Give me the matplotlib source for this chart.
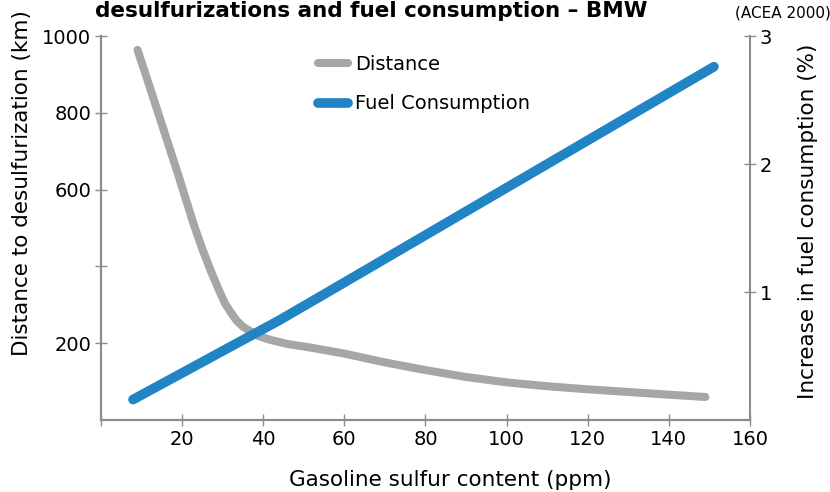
import matplotlib.pyplot as plt

# Distanz bis zur Entschwefelung (linke Achse, km)
dist_x = [9, 11, 13, 15, 17, 19, 21, 23, 25, 27, 29, 30.5, 32, 33.5, 35, 37, 39, 42, 46,
          52, 60, 70, 80, 90, 100, 110, 120, 130, 140, 149]
dist_y = [964, 900, 835, 770, 705, 640, 572, 505, 445, 390, 340, 305, 280, 258, 243, 230, 218, 208, 198,
          188, 173, 150, 130, 112, 98, 88, 80, 73, 66, 60]

# Mehrverbrauch (rechte Achse, %)
fuel_x = [7.9, 44, 56.5, 151.1]
fuel_y = [0.16, 0.78, 1.01, 2.76]

x_ticks = [0, 20, 40, 60, 80, 100, 120, 140, 160]
x_labels = ["", "20", "40", "60", "80", "100", "120", "140", "160"]
y_ticks = [200, 400, 600, 800, 1000]
y_labels = ["200", "", "600", "800", "1000"]
y2_ticks = [1, 2, 3]

grey = "#a6a6a6"
blue = "#2185c5"
spine_col = "#8c8c8c"

fig = plt.figure(figsize=(8.3, 4.92), dpi=100)
ax = fig.add_axes([0.1217, 0.1463, 0.7819, 0.7805])
ax2 = ax.twinx()

l1, = ax.plot(dist_x, dist_y, color=grey, lw=5.8, solid_capstyle="round",
              solid_joinstyle="round", label="Distance")
l2, = ax2.plot(fuel_x, fuel_y, color=blue, lw=7, solid_capstyle="round",
               solid_joinstyle="round", label="Fuel Consumption")

ax.set_xlim(0, 160)
ax.set_ylim(0, 1000)
ax2.set_ylim(0, 3)

ax.set_xticks(x_ticks)
ax.set_xticklabels(x_labels)
ax.set_yticks(y_ticks)
ax.set_yticklabels(y_labels)
ax2.set_yticks(y2_ticks)

for a in (ax, ax2):
    for s in a.spines.values():
        s.set_color(spine_col)
        s.set_linewidth(1.5)
    a.spines["top"].set_visible(False)
    a.tick_params(direction="inout", length=8, width=1, color=spine_col,
                  labelsize=14, labelcolor="black", pad=3)
ax.spines["right"].set_visible(False)

fig.text(0.027, 1 - 183 / 492, "Distance to desulfurization (km)", rotation=90,
         ha="center", va="center", fontsize=15.5)
fig.text(0.973, 1 - 221 / 492, "Increase in fuel consumption (%)", rotation=90,
         ha="center", va="center", fontsize=15.5)
fig.text(0.543, 1 - 480 / 492, "Gasoline sulfur content (ppm)",
         ha="center", va="center", fontsize=15.5)

# Titel (im Original oben angeschnitten)
fig.text(95 / 830, 1 - 17 / 492, "desulfurizations and fuel consumption \u2013 BMW",
         ha="left", va="baseline", fontsize=15.5, fontweight="bold")
fig.text(735 / 830, 1 - 17 / 492, "(ACEA 2000)", ha="left", va="baseline", fontsize=11)

fig.legend(handles=[l1, l2], loc="upper left", bbox_to_anchor=(318 / 830, 1 - 55 / 492),
           frameon=False, fontsize=14, handlelength=1.55, handletextpad=0.35,
           labelspacing=1.05, borderpad=0, borderaxespad=0)

plt.savefig("out.png", dpi=100)
